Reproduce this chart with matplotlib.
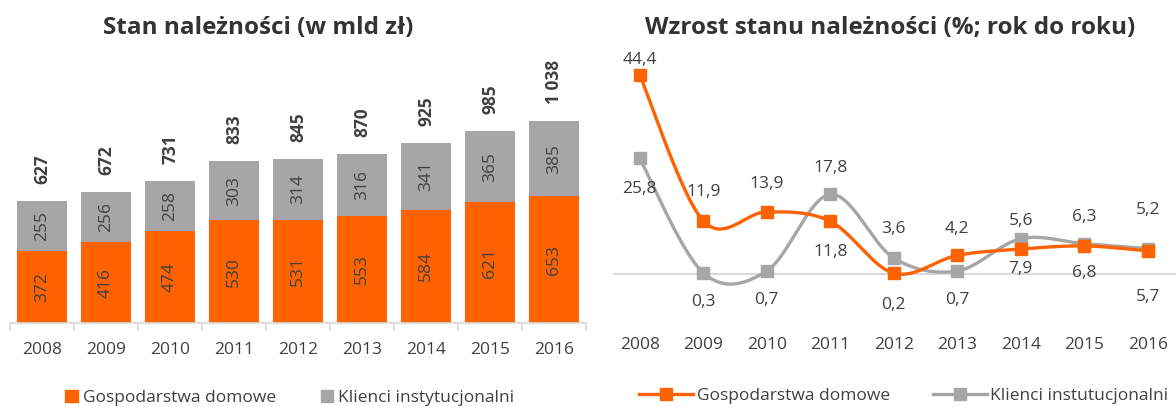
import numpy as np
import matplotlib
matplotlib.use("Agg")
import matplotlib.pyplot as plt
from matplotlib.patches import Patch
from matplotlib.lines import Line2D

plt.rcParams['font.family'] = ['Open Sans', 'DejaVu Sans']

years = ['2008', '2009', '2010', '2011', '2012', '2013', '2014', '2015', '2016']

# stan naleznosci (mld zl)
households = [372, 416, 474, 530, 531, 553, 584, 621, 653]
institutional = [255, 256, 258, 303, 314, 316, 341, 365, 385]
totals = [627, 672, 731, 833, 845, 870, 925, 985, 1038]

# wzrost r/r (%)
growth_households = [44.4, 11.9, 13.9, 11.8, 0.2, 4.2, 5.6, 6.3, 5.2]
growth_institutional = [25.8, 0.3, 0.7, 17.8, 3.6, 0.7, 7.9, 6.8, 5.7]

ORANGE = '#FF6200'
GREY = '#A6A6A6'
TEXT = '#404040'
AXIS = '#D9D9D9'


def catmull_rom(xs, ys, n=40):
    # smoothing similar to Excel "smoothed line"
    pts = np.column_stack([xs, ys]).astype(float)
    pts = np.vstack([pts[0], pts, pts[-1]])
    out = []
    t = np.linspace(0, 1, n)[:, None]
    for i in range(1, len(pts) - 2):
        p0, p1, p2, p3 = pts[i - 1], pts[i], pts[i + 1], pts[i + 2]
        m1 = (p2 - p0) / 2
        m2 = (p3 - p1) / 2
        h00 = 2 * t**3 - 3 * t**2 + 1
        h10 = t**3 - 2 * t**2 + t
        h01 = -2 * t**3 + 3 * t**2
        h11 = t**3 - t**2
        out.append(h00 * p1 + h10 * m1 + h01 * p2 + h11 * m2)
    seg = np.vstack(out)
    return seg[:, 0], seg[:, 1]


fig = plt.figure(figsize=(11.76, 4.07), dpi=100)

# ---- left: stacked bars
ax1 = fig.add_axes([10 / 1176, 84 / 407, 576 / 1176, 272 / 407])
x = np.arange(len(years))
ax1.bar(x, households, width=0.77, color=ORANGE)
ax1.bar(x, institutional, width=0.77, bottom=households, color=GREY)
for i in range(len(years)):
    ax1.text(x[i], households[i] / 2, str(households[i]), rotation=90,
             ha='center', va='center', fontsize=12.5, color=TEXT)
    ax1.text(x[i], households[i] + institutional[i] / 2, str(institutional[i]),
             rotation=90, ha='center', va='center', fontsize=12.5, color=TEXT)
    ax1.annotate(f"{totals[i]:,}".replace(',', ' '),
                 (x[i], households[i] + institutional[i]),
                 xytext=(0, 17), textcoords='offset pixels', rotation=90,
                 ha='center', va='bottom', fontsize=12.5, fontweight='bold',
                 color=TEXT)
ax1.set_xlim(-0.5, 8.5)
ax1.set_ylim(0, 1400)
ax1.set_yticks([])
ax1.set_xticks(x)
ax1.set_xticklabels(years, fontsize=12.5, color=TEXT)
ax1.set_xticks(np.arange(-0.5, 9, 1), minor=True)
ax1.tick_params(axis='x', which='major', length=0, pad=14)
ax1.tick_params(axis='x', which='minor', length=6, color=AXIS, width=1.2)
for s in ['top', 'right', 'left']:
    ax1.spines[s].set_visible(False)
ax1.spines['bottom'].set_color(AXIS)
ax1.spines['bottom'].set_linewidth(1.2)
fig.text(258 / 1176, 1 - 28 / 407, 'Stan należności (w mld zł)',
         ha='center', va='center', fontsize=17.5, fontweight='bold', color='#333333')

fig.legend(handles=[Patch(color=ORANGE, label='Gospodarstwa domowe'),
                    Patch(color=GREY, label='Klienci instytucjonalni')],
           loc='center', bbox_to_anchor=(290 / 1176, 9 / 407), ncol=2,
           frameon=False, fontsize=12.5, handlelength=0.7, handleheight=0.7,
           handletextpad=0.3, columnspacing=2.6, labelcolor=TEXT)

# ---- right: smoothed lines
ax2 = fig.add_axes([608 / 1176, 88 / 407, 571.5 / 1176, 269 / 407])
ax2.axhline(0, color=AXIS, lw=1.5, xmin=0.01, zorder=1)
sx, sy = catmull_rom(x, growth_institutional)
ax2.plot(sx, sy, color=GREY, lw=2.4, zorder=2, solid_capstyle='round')
ax2.plot(x, growth_institutional, 's', color=GREY, ms=9, zorder=3)
sx, sy = catmull_rom(x, growth_households)
ax2.plot(sx, sy, color=ORANGE, lw=2.4, zorder=4, solid_capstyle='round')
ax2.plot(x, growth_households, 's', color=ORANGE, ms=9, zorder=5)

off_h = [15, 29, 28, -31, -32, 26, 28, 29, 41]
off_i = [-31, -29, -29, 26, 29, -29, -30, -29, -48]
for i in range(len(years)):
    ax2.annotate(f"{growth_households[i]:.1f}".replace('.', ','),
                 (x[i], growth_households[i]), xytext=(0, off_h[i]),
                 textcoords='offset pixels', ha='center', va='center',
                 fontsize=12.5, color=TEXT)
    ax2.annotate(f"{growth_institutional[i]:.1f}".replace('.', ','),
                 (x[i], growth_institutional[i]), xytext=(0, off_i[i]),
                 textcoords='offset pixels', ha='center', va='center',
                 fontsize=12.5, color=TEXT)
ax2.set_xlim(-0.5, 8.5)
ax2.set_ylim(-10, 50)
ax2.set_yticks([])
ax2.set_xticks(x)
ax2.set_xticklabels(years, fontsize=12.5, color=TEXT)
ax2.tick_params(axis='x', length=0, pad=13)
for s in ax2.spines.values():
    s.set_visible(False)
fig.text(890 / 1176, 1 - 28 / 407, 'Wzrost stanu należności (%; rok do roku)',
         ha='center', va='center', fontsize=17.5, fontweight='bold', color='#333333')

fig.legend(handles=[Line2D([], [], color=ORANGE, lw=2.4, marker='s', ms=8,
                           label='Gospodarstwa domowe'),
                    Line2D([], [], color=GREY, lw=2.4, marker='s', ms=8,
                           label='Klienci instutucjonalni')],
           loc='center', bbox_to_anchor=(904 / 1176, 11 / 407), ncol=2,
           frameon=False, fontsize=12.5, handlelength=3.1,
           handletextpad=0.2, columnspacing=2.5, labelcolor=TEXT)

fig.savefig('out.png', dpi=100)
